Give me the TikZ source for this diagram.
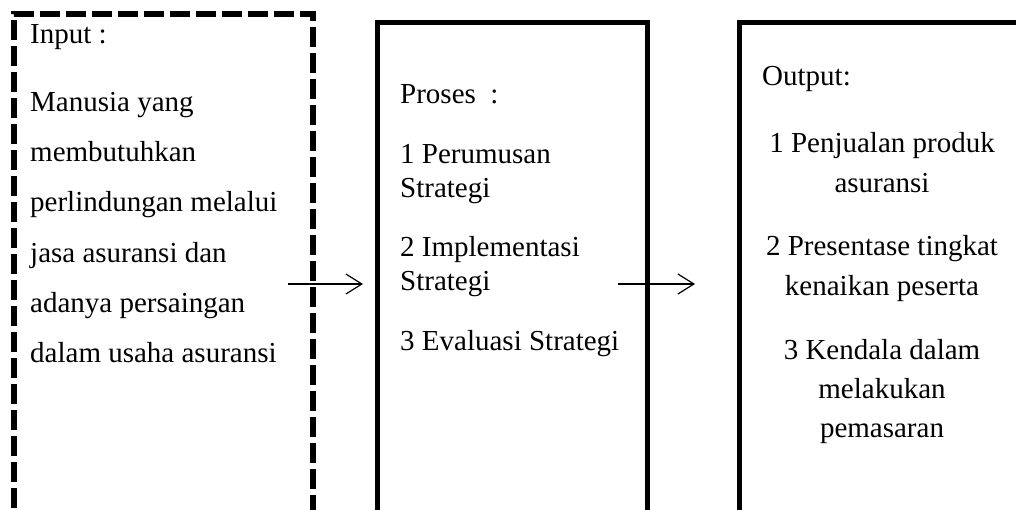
\documentclass[tikz,border=0pt]{standalone}
\usepackage{fontspec}
\setmainfont{Liberation Serif}
\usetikzlibrary{arrows.meta}
\tikzstyle{mybox}=[draw,line width=5pt,rectangle,anchor=north west,inner sep=0pt,outer sep=0pt,minimum height=540pt]
\tikzstyle{mydash}=[mybox,line width=5.5pt,dash pattern=on 20pt off 6pt]
\tikzstyle{myarrow}=[line width=1.2pt,-{Straight Barb[length=16pt,width=20pt]}]
\tikzstyle{mytext}=[inner sep=0pt,anchor=base west]
\tikzstyle{mymid}=[inner sep=0pt,anchor=base]

\begin{document}
\begin{tikzpicture}[x=1pt,y=-1pt,font=\fontsize{29}{34}\selectfont]
		\useasboundingbox (0,0) rectangle (1016,509);
		\clip (0,0) rectangle (1016,509);

		\node[mydash,minimum width=299pt] (input) at (14,14) {};
		\node[mybox,minimum width=270pt] (proses) at (377,22) {};
		\node[mybox,minimum width=320pt] (output) at (739,22) {};

		\foreach \y / \t [count=\i] in {43/Input :,111/Manusia yang,161/membutuhkan,211/perlindungan melalui,262/jasa asuransi dan,312/adanya persaingan,362/dalam usaha asuransi} {\node[mytext] (in\i) at (30,\y) {\t};}

		\foreach \y / \t [count=\i] in {103/Proses~~:,163/1 Perumusan,197/Strategi,256/2 Implementasi,290/Strategi,350/3 Evaluasi Strategi} {\node[mytext] (pr\i) at (400,\y) {\t};}

		\node[mytext] (out0) at (762,85) {Output:};
		\foreach \y / \t [count=\i] in {152/1 Penjualan produk,192/asuransi,255/2 Presentase tingkat,295/kenaikan peserta,359/3 Kendala dalam,398/melakukan,437/pemasaran} {\node[mymid] (out\i) at (882,\y) {\t};}

		\coordinate (a1) at (288,284);
		\coordinate (b1) at (363,284);
		\coordinate (a2) at (618,284);
		\coordinate (b2) at (695,284);
		\draw[myarrow] (a1) -- (b1);
		\draw[myarrow] (a2) -- (b2);
	\end{tikzpicture}
\end{document}
